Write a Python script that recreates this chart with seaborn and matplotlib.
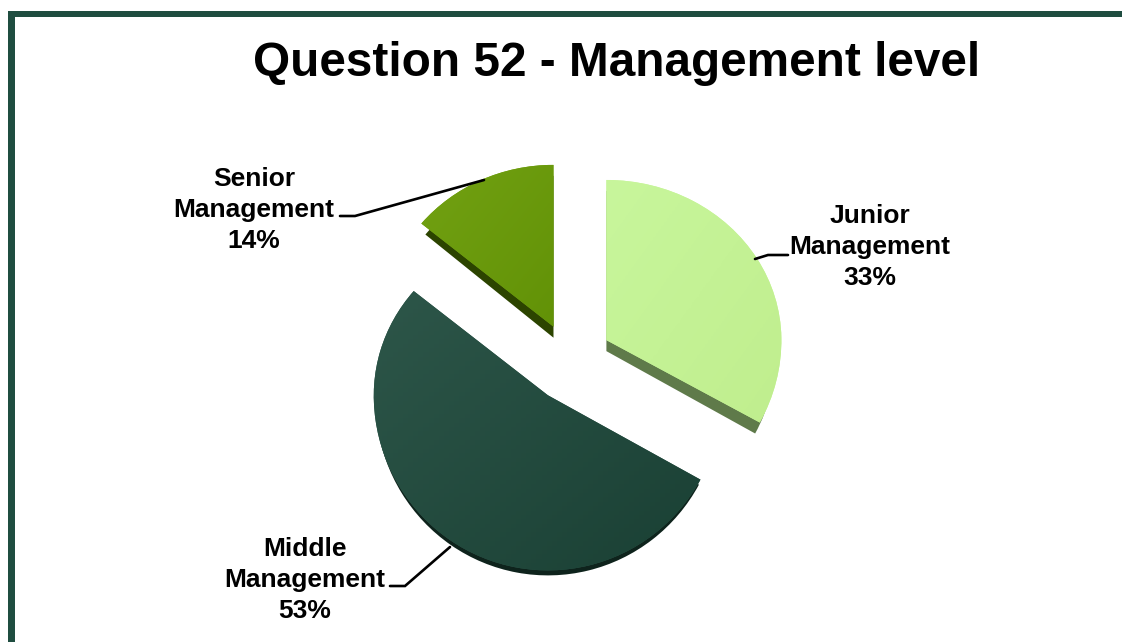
import matplotlib
matplotlib.use("Agg")
import matplotlib.pyplot as plt
from matplotlib.patches import Rectangle, PathPatch
from matplotlib.path import Path
from matplotlib.colors import LinearSegmentedColormap
import numpy as np
import seaborn as sns

sns.set_theme(style="white")
plt.rcParams['font.family'] = ['Liberation Sans', 'DejaVu Sans']

categories = ["Junior\nManagement", "Middle\nManagement", "Senior\nManagement"]
shares = [33, 53, 14]
label_pct = ["33%", "53%", "14%"]
gradient_stops = [("#c8f69c", "#c0ee8e"), ("#2d5649", "#1a4034"), ("#72a112", "#629207")]
side_colors = ["#5f7a4a", "#0e231c", "#2c4400"]

W, H = 1122, 642
explode = [0.235, 0.235, 0.235]
depths = [11, 5, 11]            # px
top_xscale = [1.0, 0.995, 0.98]
side_xscale = [0.97, 0.985, 0.95]
shift_px = [-3, 0, -1]
scale_up = [0.965, 0.985, 0.975]
scale_down = [1.03, 1.055, 1.0]

fig = plt.figure(figsize=(W/100, H/100), dpi=100, facecolor="white")
RX, RY = 175.0, 166.0
CX, CY = 571.0, 363.0
ax = fig.add_axes([(CX-RX*2)/W, 1-(CY+RY*2)/H, RX*4/W, RY*4/H])

wedges, _ = ax.pie(shares, colors=side_colors, startangle=90, counterclock=False,
                   explode=explode, radius=1, frame=True,
                   wedgeprops=dict(linewidth=0, edgecolor="none"))
ax.set_aspect("auto")
ax.set_xlim(-2, 2); ax.set_ylim(-2, 2)
ax.axis("off")


def warped(w, i, extra_dy=0.0, xs=1.0):
    p = w.get_patch_transform().transform_path(w.get_path())
    v = p.vertices.copy()
    cx, cy = w.center
    y = v[:, 1] - cy
    y = np.where(y > 0, y*scale_up[i], y*scale_down[i])
    v[:, 1] = cy + y + (-shift_px[i] - extra_dy)/RY
    v[:, 0] = cx + (v[:, 0]-cx)*xs
    return Path(v, p.codes)


for i, w in enumerate(wedges):
    w.set_visible(False)
    side = PathPatch(warped(w, i, depths[i], side_xscale[i]), fc=side_colors[i], ec="none", lw=0, zorder=1)
    ax.add_patch(side)
    top_path = warped(w, i, 0.0, top_xscale[i])
    top = PathPatch(top_path, fc=gradient_stops[i][0], ec="none", lw=0, zorder=2)
    ax.add_patch(top)
    x0, y0 = top_path.vertices.min(axis=0)
    x1, y1 = top_path.vertices.max(axis=0)
    xx, yy = np.meshgrid(np.linspace(0, 1, 64), np.linspace(0, 1, 64))
    im = ax.imshow((xx+yy)/2, extent=(x0, x1, y0, y1), origin="upper", aspect="auto", zorder=3,
                   cmap=LinearSegmentedColormap.from_list(f"g{i}", gradient_stops[i]), vmin=0, vmax=1)
    im.set_clip_path(top)
ax.set_aspect("auto")
ax.set_xlim(-2, 2); ax.set_ylim(-2, 2)


def P(px, py):
    return ((px-CX)/RX, (CY-py)/RY)


label_pos = [(870, 247), (305, 580), (254, 210)]
leaders = [[(755, 259), (768, 255), (788, 255)],
           [(450, 547), (405, 586), (390, 586)],
           [(484, 180), (355, 216), (340, 216)]]
for cat, pct, pos, line in zip(categories, label_pct, label_pos, leaders):
    x, y = P(*pos)
    ax.text(x, y, f"{cat}\n{pct}", ha="center", va="center", fontsize=19, fontweight="bold",
            color="black", linespacing=1.365, zorder=6)
    xs, ys = zip(*[P(*p) for p in line])
    ax.plot(xs, ys, color="black", lw=1.9, zorder=5, solid_joinstyle="miter")

fig.text(616.5/W, 1-63/H, "Question 52 - Management level", ha="center", va="center",
         fontsize=34.4, fontweight="bold", color="black")

frame = "#1f4d40"
fig.add_artist(Rectangle((8/W, 1-17/H), (W-8)/W, 6/H, transform=fig.transFigure, color=frame, lw=0))
fig.add_artist(Rectangle((8/W, 0), 6.5/W, 1-12/H, transform=fig.transFigure, color=frame, lw=0))

fig.savefig("out.png", dpi=100, facecolor="white")
